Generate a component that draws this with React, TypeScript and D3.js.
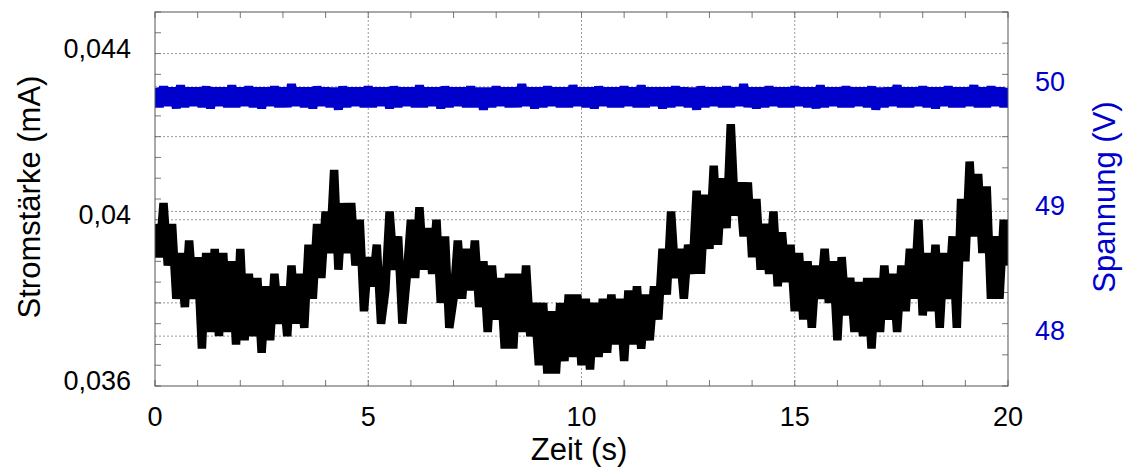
import React from "react";
import * as d3 from "d3";

// sampling interval of the recorded series (s)
const sampleInterval = 0.1;

// Stromstärke (mA), one value per 0.1 s from 0 to 20 s
const current: number[] = [
  0.0399, 0.0391, 0.0404, 0.0389, 0.0399, 0.0381, 0.0392, 0.0379, 0.0395, 0.0381,
  0.0391, 0.0369, 0.0392, 0.0373, 0.0393, 0.0372, 0.0392, 0.0373, 0.0390, 0.0370,
  0.0393, 0.0371, 0.0387, 0.0372, 0.0386, 0.0368, 0.0384, 0.0371, 0.0387, 0.0375,
  0.0384, 0.0372, 0.0389, 0.0375, 0.0387, 0.0374, 0.0394, 0.0381, 0.0399, 0.0386,
  0.0402, 0.0392, 0.0412, 0.0388, 0.0404, 0.0392, 0.0404, 0.0389, 0.0400, 0.0378,
  0.0391, 0.0384, 0.0394, 0.0375, 0.0383, 0.0402, 0.0388, 0.0396, 0.0375, 0.0386,
  0.0400, 0.0386, 0.0403, 0.0388, 0.0398, 0.0387, 0.0400, 0.0380, 0.0396, 0.0374,
  0.0381, 0.0395, 0.0381, 0.0393, 0.0383, 0.0395, 0.0379, 0.0390, 0.0373, 0.0389,
  0.0376, 0.0386, 0.0369, 0.0387, 0.0369, 0.0387, 0.0373, 0.0389, 0.0372, 0.0380,
  0.0365, 0.0380, 0.0363, 0.0378, 0.0363, 0.0380, 0.0366, 0.0382, 0.0367, 0.0382,
  0.0365, 0.0381, 0.0364, 0.0380, 0.0367, 0.0381, 0.0368, 0.0382, 0.0370, 0.0381,
  0.0366, 0.0383, 0.0370, 0.0384, 0.0369, 0.0382, 0.0371, 0.0384, 0.0376, 0.0393,
  0.0382, 0.0402, 0.0386, 0.0393, 0.0381, 0.0394, 0.0387, 0.0407, 0.0387, 0.0406,
  0.0393, 0.0413, 0.0394, 0.0410, 0.0398, 0.0423, 0.0401, 0.0409, 0.0396, 0.0409,
  0.0391, 0.0405, 0.0388, 0.0399, 0.0387, 0.0402, 0.0384, 0.0397, 0.0385, 0.0394,
  0.0378, 0.0392, 0.0376, 0.0390, 0.0374, 0.0389, 0.0381, 0.0393, 0.0380, 0.0390,
  0.0371, 0.0391, 0.0377, 0.0386, 0.0373, 0.0385, 0.0372, 0.0386, 0.0369, 0.0386,
  0.0373, 0.0389, 0.0376, 0.0387, 0.0373, 0.0389, 0.0378, 0.0393, 0.0381, 0.0400,
  0.0377, 0.0392, 0.0378, 0.0394, 0.0374, 0.0392, 0.0381, 0.0396, 0.0374, 0.0405,
  0.0390, 0.0414, 0.0396, 0.0411, 0.0392, 0.0408, 0.0381, 0.0396, 0.0381, 0.0400,
  0.0389,
];

// Spannung (V), one value per 0.1 s from 0 to 20 s
const voltage: number[] = [
  49.99, 49.84, 50.0, 49.85, 49.99, 49.83, 50.01, 49.84, 49.99, 49.85,
  49.99, 49.84, 50.0, 49.83, 49.99, 49.85, 49.99, 49.84, 50.01, 49.84,
  49.99, 49.85, 50.0, 49.84, 49.99, 49.83, 49.99, 49.85, 50.0, 49.84,
  49.99, 49.84, 50.02, 49.85, 49.99, 49.84, 49.99, 49.83, 50.0, 49.85,
  49.99, 49.84, 49.99, 49.82, 50.0, 49.84, 49.99, 49.85, 49.99, 49.84,
  50.0, 49.84, 49.99, 49.85, 49.99, 49.83, 50.0, 49.84, 49.99, 49.85,
  49.99, 49.84, 50.01, 49.84, 49.99, 49.85, 49.99, 49.83, 50.0, 49.84,
  49.99, 49.85, 49.99, 49.84, 50.0, 49.84, 49.99, 49.82, 49.99, 49.84,
  50.0, 49.85, 49.99, 49.84, 49.99, 49.84, 50.02, 49.85, 49.99, 49.83,
  49.99, 49.84, 50.0, 49.85, 49.99, 49.84, 49.99, 49.84, 50.01, 49.85,
  49.99, 49.84, 49.99, 49.83, 50.0, 49.85, 49.99, 49.84, 49.99, 49.84,
  50.0, 49.85, 49.99, 49.84, 50.01, 49.84, 49.99, 49.85, 49.99, 49.83,
  49.99, 49.84, 50.0, 49.85, 49.99, 49.84, 49.99, 49.82, 50.0, 49.84,
  49.99, 49.85, 49.99, 49.84, 50.0, 49.84, 49.99, 49.85, 50.02, 49.84,
  49.99, 49.83, 49.99, 49.84, 50.0, 49.85, 49.99, 49.84, 49.99, 49.84,
  50.0, 49.85, 49.99, 49.84, 49.99, 49.83, 50.01, 49.84, 49.99, 49.85,
  49.99, 49.84, 50.0, 49.84, 49.99, 49.85, 49.99, 49.84, 50.0, 49.82,
  49.99, 49.84, 49.99, 49.85, 50.01, 49.84, 49.99, 49.84, 49.99, 49.85,
  50.0, 49.84, 49.99, 49.83, 49.99, 49.85, 50.0, 49.84, 49.99, 49.84,
  49.99, 49.85, 50.01, 49.84, 49.99, 49.84, 50.0, 49.85, 49.99, 49.84,
  49.99,
];

// axis domains and tick sets
const timeDomain: [number, number] = [0, 20];
const currentDomain: [number, number] = [0.036, 0.045];
const voltageDomain: [number, number] = [47.6, 50.6];
const timeLabels = [0, 5, 10, 15, 20];
const timeGrid = [5, 10, 15];
const currentLabels = [0.036, 0.04, 0.044];
const currentGrid = [0.038, 0.04, 0.042, 0.044];
const voltageLabels = [48, 49, 50];

const W = 1130;
const H = 468;
const M = { left: 155, right: 1008, top: 12, bottom: 386 };
const FONT = "'Liberation Sans', Arial, Helvetica, sans-serif";
const BLUE = "#0000CD";

export default function App() {
  const x = d3.scaleLinear().domain(timeDomain).range([M.left, M.right]);
  const yL = d3.scaleLinear().domain(currentDomain).range([M.bottom, M.top]);
  const yR = d3.scaleLinear().domain(voltageDomain).range([M.bottom, M.top]);

  const lineI = d3
    .line<number>()
    .x((_, i) => x(i * sampleInterval))
    .y((d) => yL(d));
  const lineV = d3
    .line<number>()
    .x((_, i) => x(i * sampleInterval))
    .y((d) => yR(d));

  const xTicks = d3.range(timeDomain[0], timeDomain[1] + 0.001, 1);
  const lTicks = d3.range(0, 19).map((k) => currentDomain[0] + k * 0.0005);
  const rTicks = d3.range(0, 13).map((k) => voltageDomain[0] + k * 0.25);

  const fmtL = (v: number) => String(+v.toFixed(3)).replace(".", ",");

  const tickC = "#777";
  const gridC = "#9a9a9a";
  const tl = 6;

  return (
    <svg
      width={W}
      height={H}
      style={{ position: "absolute", left: 0, top: 0, background: "#fff" }}
      fontFamily={FONT}
    >
      <defs>
        <clipPath id="plot">
          <rect x={M.left} y={M.top} width={M.right - M.left} height={M.bottom - M.top} />
        </clipPath>
      </defs>
      {/* grid */}
      <g stroke={gridC} strokeWidth={1} strokeDasharray="2,2" fill="none">
        {timeGrid.map((t) => (
          <line key={"gx" + t} x1={x(t)} x2={x(t)} y1={M.top} y2={M.bottom} />
        ))}
        {currentGrid.map((v) => (
          <line key={"gl" + v} x1={M.left} x2={M.right} y1={yL(v)} y2={yL(v)} />
        ))}
        {voltageLabels.map((v) => (
          <line key={"gr" + v} x1={M.left} x2={M.right} y1={yR(v)} y2={yR(v)} />
        ))}
      </g>
      {/* ticks */}
      <g stroke={tickC} strokeWidth={1}>
        {xTicks.map((t) => (
          <g key={"xt" + t}>
            <line x1={x(t)} x2={x(t)} y1={M.bottom} y2={M.bottom - tl} />
            <line x1={x(t)} x2={x(t)} y1={M.top} y2={M.top + tl} />
          </g>
        ))}
        {lTicks.map((v, i) => (
          <line key={"lt" + i} x1={M.left} x2={M.left + tl} y1={yL(v)} y2={yL(v)} />
        ))}
        {rTicks.map((v, i) => (
          <line key={"rt" + i} x1={M.right} x2={M.right - tl} y1={yR(v)} y2={yR(v)} />
        ))}
      </g>
      {/* data */}
      <g clipPath="url(#plot)">
        <path
          d={lineV(voltage) || ""}
          fill="none"
          stroke={BLUE}
          strokeWidth={9}
          strokeLinejoin="bevel"
        />
        <path
          d={lineI(current) || ""}
          fill="none"
          stroke="#000"
          strokeWidth={8.5}
          strokeLinejoin="bevel"
        />
      </g>
      {/* frame */}
      <rect
        x={M.left}
        y={M.top}
        width={M.right - M.left}
        height={M.bottom - M.top}
        fill="none"
        stroke="#555"
        strokeWidth={1}
      />
      {/* tick labels */}
      <g fontSize={27} fill="#000">
        {timeLabels.map((t) => (
          <text key={"xl" + t} x={x(t)} y={426} textAnchor="middle">
            {t}
          </text>
        ))}
        {currentLabels.map((v) => (
          <text key={"ll" + v} x={131} y={yL(v) + 4} textAnchor="end">
            {fmtL(v)}
          </text>
        ))}
      </g>
      <g fontSize={27} fill={BLUE}>
        {voltageLabels.map((v) => (
          <text key={"rl" + v} x={1035} y={yR(v) + 4} textAnchor="start">
            {v}
          </text>
        ))}
      </g>
      {/* axis titles */}
      <text x={579} y={460} fontSize={31} textAnchor="middle" fill="#000">
        Zeit (s)
      </text>
      <text
        transform={`translate(40,${197}) rotate(-90)`}
        fontSize={31}
        textAnchor="middle"
        fill="#000"
      >
        Stromstärke (mA)
      </text>
      <text
        transform={`translate(1115,${197}) rotate(-90)`}
        fontSize={31}
        textAnchor="middle"
        fill={BLUE}
      >
        Spannung (V)
      </text>
    </svg>
  );
}
